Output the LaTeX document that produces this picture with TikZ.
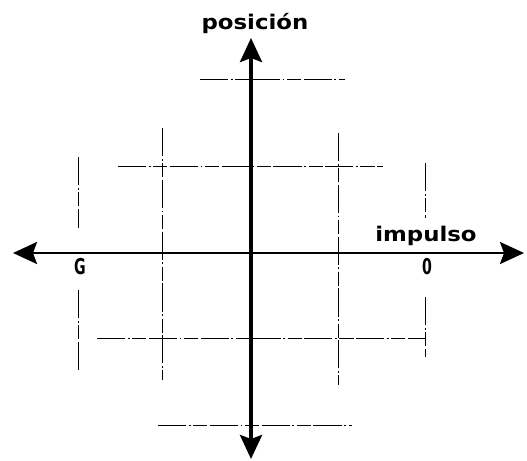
\documentclass[tikz,border=0pt]{standalone}
\usepackage{fontspec}
\setmainfont{DejaVu Sans}
\usetikzlibrary{arrows.meta}
\begin{document}
\begin{tikzpicture}[x=0.02cm, y=-0.02cm,
		truc/.style={-{Stealth[length=4.8mm, width=4.4mm, inset=0.8mm]}},
		luoi/.style={line width=0.5pt, dash pattern=on 16pt off 1.5pt on 1pt off 1.5pt on 8pt off 1.5pt},
		nhan/.style={font=\bfseries\fontsize{11.5}{12}\selectfont, inner sep=0pt, xscale=1.13},
		moc/.style={font=\bfseries\fontsize{12.4}{13}\selectfont, inner sep=0pt, xscale=0.65}]
		\useasboundingbox (0,0) rectangle (527,460);
		
		% Khai báo các tọa độ mấu chốt
		\pgfmathsetmacro{\xO}{251}
		\pgfmathsetmacro{\yO}{253}
		
		\coordinate (O) at (\xO, \yO);
		\coordinate (T) at (\xO, 38);
		\coordinate (D) at (\xO, 459);
		\coordinate (L) at (13, \yO);
		\coordinate (R) at (524, \yO);
		
		% Các đường lưới
		\draw[luoi] (200,79) -- (345,79);
		\draw[luoi] (118,166) -- (383,166);
		\draw[luoi] (97,338) -- (425,338);
		\draw[luoi] (158,425) -- (352,425);
		\draw[luoi] (78,157) -- (78,228);
		\draw[luoi] (78,290) -- (78,370);
		\draw[luoi] (162,128) -- (162,380);
		\draw[luoi] (338,133) -- (338,385);
		\draw[luoi] (425,163) -- (425,218);
		\draw[luoi] (425,297) -- (425,357);
		
		% Các trục
		\draw[truc, line width=2.2pt] (O) -- (T);
		\draw[truc, line width=2.2pt] (O) -- (D);
		\draw[truc, line width=1.4pt] (O) -- (L);
		\draw[truc, line width=1.4pt] (O) -- (R);
		
		% Nhãn
		\node[nhan] (pos) at (255,24) {posición};
		\node[nhan] (imp) at (426,236) {impulso};
		\node[moc] (G) at (80,267) {G};
		\node[moc] (Z) at (427,267) {0};
		\end{tikzpicture}
\end{document}
